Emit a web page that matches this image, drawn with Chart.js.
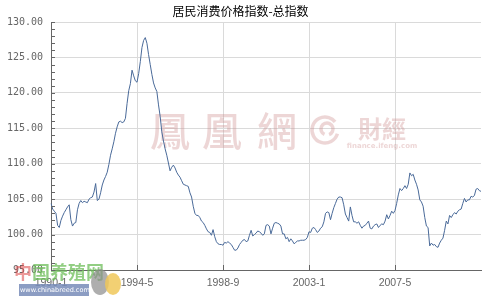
<!DOCTYPE html>
<html><head><meta charset="utf-8">
<script src="https://cdn.jsdelivr.net/npm/chart.js@4.4.0/dist/chart.umd.min.js"></script>
<style>html,body{margin:0;padding:0;background:#fff;}canvas{display:block;}</style>
</head><body>
<canvas id="c" width="500" height="300"></canvas>
<script>
const titleText = '居民消费价格指数-总指数';
const startYear = 1990;
const tickLabels = ['1990-1', '1994-5', '1998-9', '2003-1', '2007-5'];
const yTicks = [95, 100, 105, 110, 115, 120, 125, 130];
// 居民消费价格指数（上年同月=100），1990-1 至 2011-9
const cpiValues = [
  104.4, 103.6, 103.3, 103.0, 101.3, 101.0, 102.0, 102.6, 103.1, 103.5, 103.9, 104.2, // 1990
  102.1, 101.2, 101.6, 101.7, 103.5, 104.4, 104.8, 104.5, 104.7, 104.6, 104.5, 105.0, // 1991
  105.2, 105.3, 106.0, 107.2, 104.8, 105.0, 105.9, 107.0, 107.7, 108.2, 108.8, 109.9, // 1992
  111.2, 112.1, 113.1, 114.3, 115.2, 115.9, 116.0, 115.8, 115.9, 116.4, 118.5, 120.3, // 1993
  121.3, 123.2, 122.4, 121.7, 121.5, 122.7, 124.4, 126.4, 127.4, 127.8, 127.0, 125.4, // 1994
  124.0, 122.6, 121.4, 120.7, 120.2, 118.3, 116.7, 114.5, 113.2, 112.1, 111.2, 110.1, // 1995
  109.0, 109.5, 109.8, 109.4, 108.8, 108.4, 108.1, 107.6, 107.1, 107.0, 106.9, 106.8, // 1996
  105.9, 105.3, 104.0, 103.0, 102.7, 102.7, 102.4, 101.9, 101.7, 101.3, 100.8, 100.4, // 1997
  100.3, 99.9, 100.7, 99.7, 99.0, 98.7, 98.6, 98.6, 98.5, 98.9, 98.8, 99.0,           // 1998
  98.8, 98.6, 98.2, 97.8, 97.8, 98.1, 98.6, 98.9, 99.2, 99.3, 99.0, 99.1,             // 1999
  99.9, 100.6, 99.8, 100.0, 100.2, 100.5, 100.4, 100.2, 99.9, 100.1, 101.3, 101.4,    // 2000
  101.2, 100.1, 100.9, 101.6, 101.7, 101.6, 101.5, 101.2, 100.1, 100.1, 99.4, 99.6,   // 2001
  99.0, 99.4, 99.1, 98.7, 98.9, 99.1, 99.1, 99.2, 99.2, 99.2, 99.3, 99.6,             // 2002
  100.4, 100.3, 100.9, 101.0, 100.7, 100.3, 100.5, 100.9, 101.1, 101.8, 103.0, 103.2, // 2003
  103.1, 102.1, 103.0, 103.8, 104.4, 105.0, 105.3, 105.3, 105.2, 104.2, 102.9, 102.4, // 2004
  101.9, 103.9, 102.7, 101.8, 101.8, 101.6, 101.8, 101.3, 100.9, 101.2, 101.3, 101.6, // 2005
  101.9, 100.9, 100.8, 101.2, 101.4, 101.5, 101.0, 101.3, 101.5, 101.4, 101.9, 102.8, // 2006
  102.2, 102.7, 103.3, 103.0, 103.4, 104.4, 105.6, 106.5, 106.2, 106.5, 106.9, 106.5, // 2007
  107.1, 108.7, 108.3, 108.5, 107.7, 107.1, 106.3, 104.9, 104.6, 104.0, 102.4, 101.2, // 2008
  101.0, 98.4, 98.8, 98.5, 98.6, 98.3, 98.2, 98.8, 99.2, 99.5, 100.6, 101.9,          // 2009
  101.5, 102.7, 102.4, 102.8, 103.1, 102.9, 103.3, 103.5, 103.6, 104.4, 105.1, 104.6, // 2010
  104.9, 104.9, 105.4, 105.3, 105.5, 106.4, 106.5, 106.2, 106.1                       // 2011
];

const categories = cpiValues.map((v, i) => (startYear + Math.floor(i / 12)) + '-' + (i % 12 + 1));
const isMajorX = (i) => tickLabels.includes(categories[i]);

const innerTicks = {
  id: 'innerTicks',
  afterDraw(chart) {
    const ctx = chart.ctx, x = chart.scales.x, y = chart.scales.y;
    ctx.save();
    ctx.strokeStyle = '#666';
    ctx.lineWidth = 1;
    ctx.beginPath();
    y.ticks.forEach(t => {
      const py = Math.round(y.getPixelForValue(t.value)) + 0.5;
      ctx.moveTo(x.left, py); ctx.lineTo(x.left + 4, py);
    });
    x.ticks.forEach((t, i) => {
      if (!isMajorX(i) || i === 0) return;
      const px = Math.round(x.getPixelForValue(i)) + 0.5;
      ctx.moveTo(px, y.bottom); ctx.lineTo(px, y.bottom - 5);
    });
    ctx.stroke();
    ctx.restore();
  }
};

const watermark = {
  id: 'watermark',
  beforeDatasetsDraw(chart) {
    const ctx = chart.ctx;
    ctx.save();
    ctx.fillStyle = 'rgba(205,140,140,0.36)';
    ctx.textAlign = 'center';
    ctx.textBaseline = 'middle';
    ctx.font = '500 40px "Noto Sans CJK TC"';
    [['鳳', 170], ['凰', 222], ['網', 277]].forEach(([c, px]) => ctx.fillText(c, px, 131));
    ctx.strokeStyle = 'rgba(205,140,140,0.36)';
    ctx.lineWidth = 3.5;
    ctx.beginPath(); ctx.arc(325, 130, 13, 0.3, 5.6); ctx.stroke();
    ctx.beginPath(); ctx.arc(327, 129, 6, 2.0, 7.5); ctx.stroke();
    ctx.font = 'bold 24px "Noto Sans CJK TC"';
    ctx.fillText('財經', 382, 129);
    ctx.font = 'bold 7px "DejaVu Sans"';
    ctx.fillText('finance.ifeng.com', 382, 146);
    // bottom-left logo
    ctx.font = 'bold 18px "Noto Sans CJK SC"';
    ctx.textAlign = 'left';
    ctx.fillStyle = 'rgba(220,70,70,0.55)';
    ctx.fillText('中', 14, 272);
    ctx.fillStyle = 'rgba(110,190,90,0.75)';
    ctx.fillText('国养殖网', 32, 272);
    ctx.fillStyle = 'rgba(120,140,185,0.85)';
    ctx.fillRect(19, 284, 70, 12);
    ctx.fillStyle = '#fff';
    ctx.font = '6.5px "DejaVu Sans"';
    ctx.fillText('www.chinabreed.com', 20, 290.5);
    ctx.fillStyle = 'rgba(140,140,140,0.7)';
    ctx.beginPath(); ctx.ellipse(100, 282, 9, 13, 0, 0, Math.PI * 2); ctx.fill();
    ctx.fillStyle = 'rgba(240,200,90,0.85)';
    ctx.beginPath(); ctx.ellipse(113, 284, 8, 11, 0, 0, Math.PI * 2); ctx.fill();
    ctx.restore();
  }
};

new Chart(document.getElementById('c'), {
  type: 'line',
  data: {
    labels: categories,
    datasets: [{
      data: cpiValues,
      borderColor: '#4a6a99',
      borderWidth: 1,
      pointRadius: 0,
      tension: 0,
      fill: false
    }]
  },
  options: {
    responsive: false,
    animation: false,
    devicePixelRatio: 1,
    layout: { padding: { left: 0, right: 19, top: 0, bottom: 0 } },
    plugins: {
      legend: { display: false },
      tooltip: { enabled: false },
      title: {
        display: true,
        text: titleText,
        color: '#000',
        font: { family: '"Noto Sans CJK SC"', size: 12, weight: 'normal', lineHeight: 1.2 },
        padding: { top: 4, bottom: 3.6 }
      }
    },
    scales: {
      x: {
        type: 'category',
        offset: false,
        border: { display: true, color: '#666', width: 1 },
        grid: {
          drawTicks: false,
          color: (c) => (c.index !== undefined && isMajorX(c.index) && c.index !== 0) ? '#dadada' : 'rgba(0,0,0,0)',
          lineWidth: 1
        },
        ticks: {
          autoSkip: false,
          maxRotation: 0,
          minRotation: 0,
          padding: 7,
          color: '#666',
          font: { family: '"Liberation Sans", Arial', size: 10.5 },
          callback: function (val, i) { return isMajorX(i) ? categories[i] : ''; }
        },
        afterFit: (s) => { s.height = 30; }
      },
      y: {
        min: yTicks[0],
        max: yTicks[yTicks.length - 1],
        border: { display: true, color: '#666', width: 1 },
        grid: {
          drawTicks: false,
          color: (c) => (c.tick && yTicks.includes(c.tick.value) && c.tick.value !== yTicks[0]) ? '#dadada' : 'rgba(0,0,0,0)'
        },
        ticks: {
          stepSize: 1,
          autoSkip: false,
          padding: 8,
          color: '#666',
          font: { family: '"DejaVu Sans Mono", monospace', size: 10 },
          callback: (v) => yTicks.includes(v) ? v.toFixed(2) : ''
        },
        afterFit: (s) => { s.width = 51; }
      }
    }
  },
  plugins: [watermark, innerTicks]
});
</script>
</body></html>
